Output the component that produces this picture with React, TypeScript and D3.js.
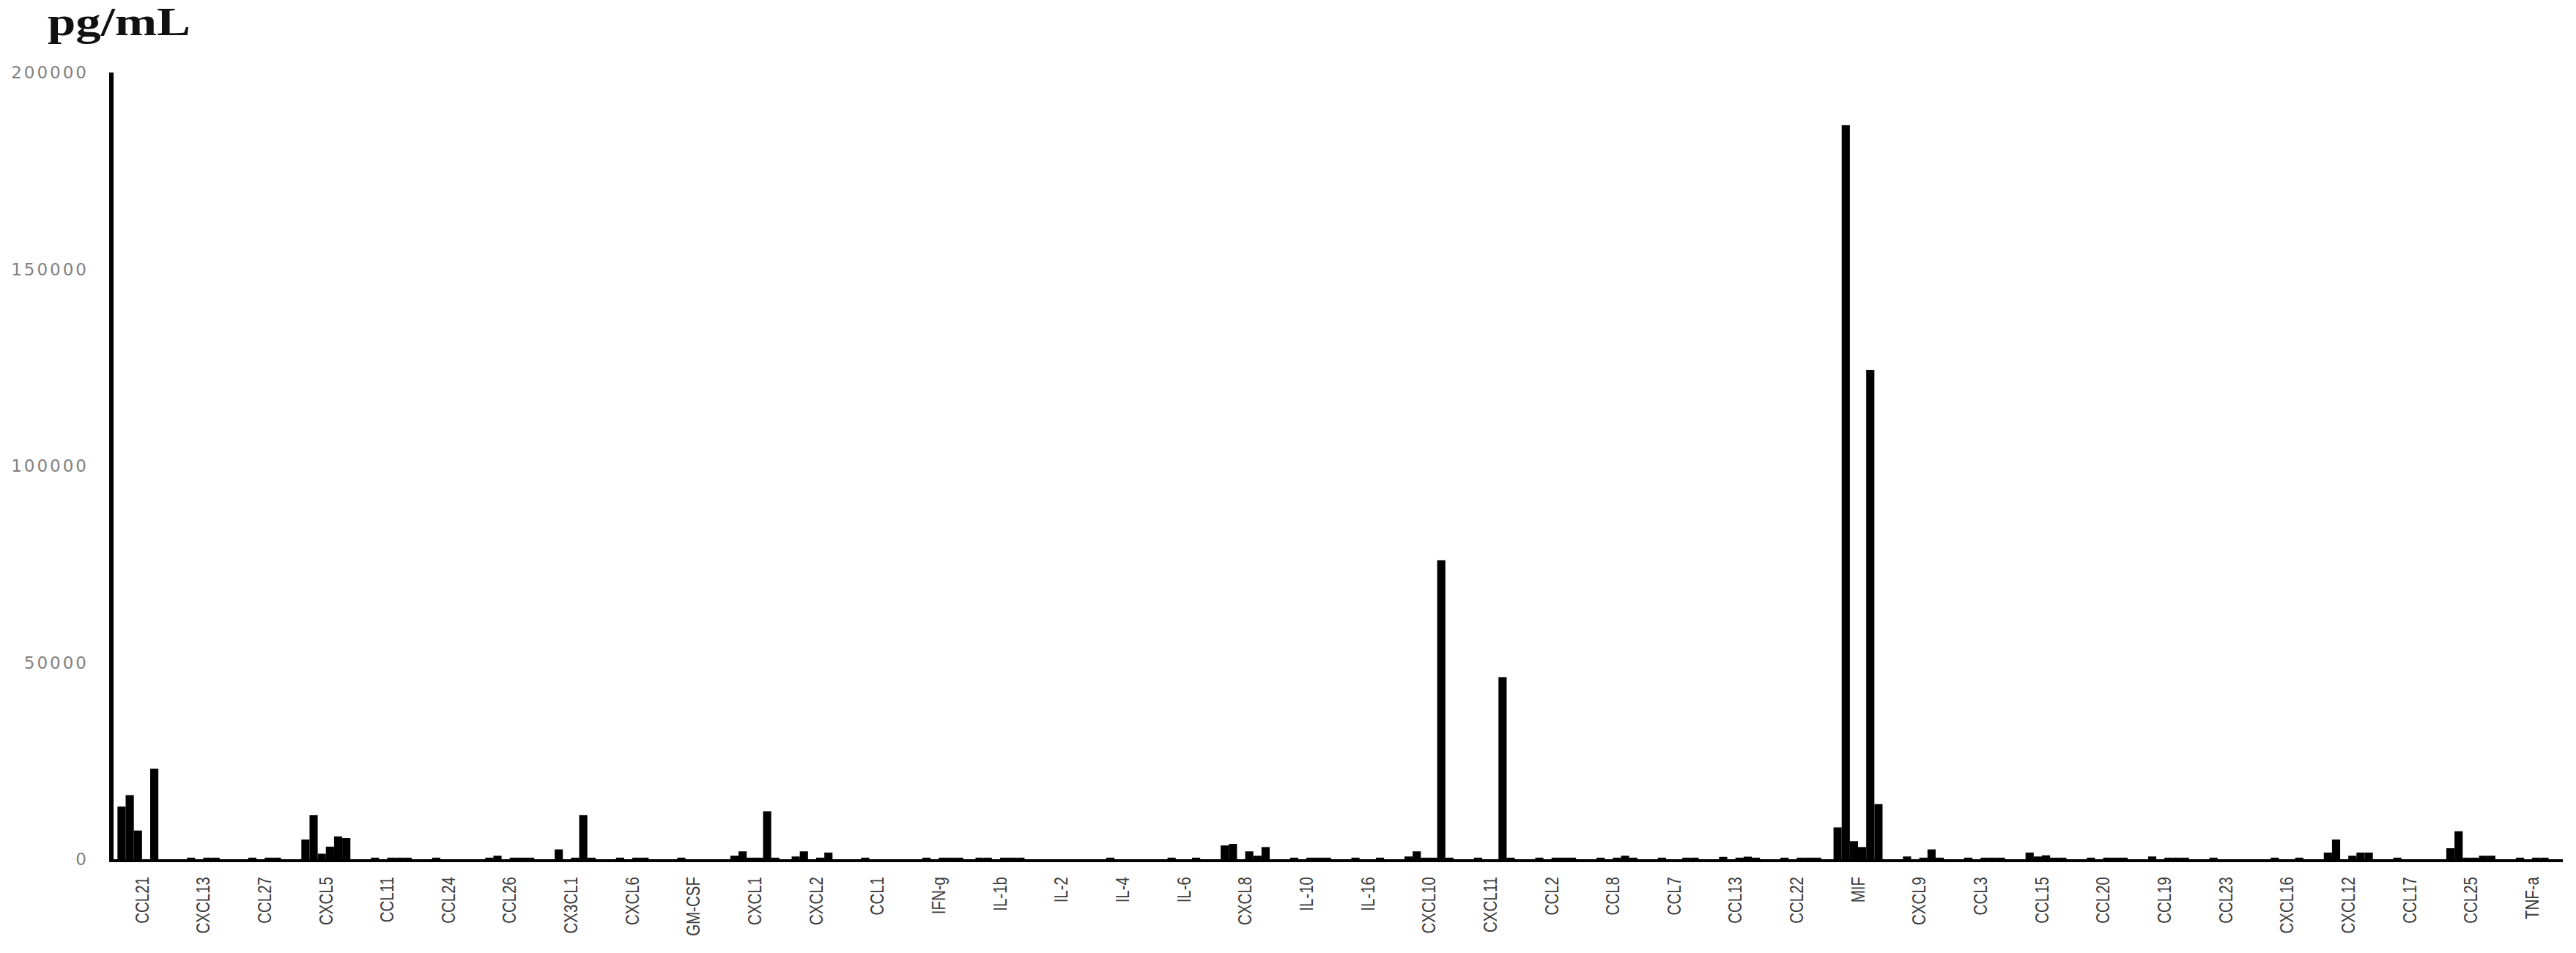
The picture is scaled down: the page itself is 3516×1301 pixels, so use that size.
import React from "react";
import * as d3 from "d3";

const categories = ["CCL21","CXCL13","CCL27","CXCL5","CCL11","CCL24","CCL26","CX3CL1","CXCL6","GM-CSF","CXCL1","CXCL2","CCL1","IFN-g","IL-1b","IL-2","IL-4","IL-6","CXCL8","IL-10","IL-16","CXCL10","CXCL11","CCL2","CCL8","CCL7","CCL13","CCL22","MIF","CXCL9","CCL3","CCL15","CCL20","CCL19","CCL23","CXCL16","CXCL12","CCL17","CCL25","TNF-a"];

const series1 = [13400,0,0,5000,0,0,400,0,0,0,900,700,0,0,400,0,0,0,3500,0,0,700,0,0,0,0,0,0,8100,0,0,0,0,0,0,0,1700,0,2800,0];
const series2 = [16300,400,400,11200,400,400,900,2500,400,400,2000,2000,400,400,400,0,400,400,3900,400,400,2000,400,400,400,400,600,400,186600,700,400,1700,400,700,400,400,5000,400,7100,400];
const series3 = [7300,0,0,1400,0,0,0,0,0,0,400,0,0,0,0,0,0,0,0,0,0,400,0,0,0,0,0,0,4600,0,0,700,0,0,0,0,0,0,400,0];
const series4 = [0,400,400,3200,400,0,400,400,400,0,400,400,0,400,400,0,0,0,2000,400,0,400,0,400,400,0,400,400,3100,400,400,1000,400,400,0,0,900,0,400,400];
const series5 = [23000,400,400,5800,400,0,400,11200,400,0,12200,1700,0,400,400,0,0,400,900,400,400,76000,46300,400,900,400,650,400,124400,2500,400,400,400,400,0,400,1700,0,900,400];
const series6 = [0,0,0,5400,400,0,400,400,0,0,400,0,0,400,400,0,0,0,3100,400,0,400,400,400,400,400,400,400,14000,400,400,400,400,400,0,0,1700,0,900,0];

const seriesNames = ["s1","s2","s3","s4","s5","s6"];
const seriesValues = [series1, series2, series3, series4, series5, series6];
const yTicks = [0, 50000, 100000, 150000, 200000];

const W = 3516;
const H = 1301;

export default function App() {
  const x = d3.scaleBand<string>().domain(categories).range([152, 3498]).paddingInner(0).paddingOuter(0);
  const xs = d3.scaleBand<string>().domain(seriesNames).range([0, x.bandwidth()]).paddingInner(0).paddingOuter(0.75);
  const y = d3.scaleLinear().domain([0, 200000]).range([1173, 99]);

  return (
    <svg width={W} height={H} style={{ position: "absolute", left: 0, top: 0, display: "block", background: "#fff" }}>
      <text x={65} y={48} fontFamily="Liberation Serif, DejaVu Serif, serif" fontWeight="bold" fontSize={54} fill="#111" textLength={195} lengthAdjust="spacingAndGlyphs">pg/mL</text>
      {yTicks.map((t) => (
        <text key={t} x={121} y={y(t)} textAnchor="end" dominantBaseline="central" fontFamily="DejaVu Sans, sans-serif" fontSize={23} letterSpacing={3} fill="#808080">{t}</text>
      ))}
      {categories.map((c, i) => (
        <g key={c} transform={`translate(${x(c)!},0)`}>
          {seriesValues.map((vals, j) => {
            const v = vals[i];
            if (!v) return null;
            return (
              <rect key={j} x={xs(seriesNames[j])!} y={y(v)} width={xs.bandwidth()} height={y(0) - y(v)} fill="#000" />
            );
          })}
        </g>
      ))}
      <line x1={149} x2={3498} y1={1175} y2={1175} stroke="#000" strokeWidth={4} />
      <line x1={152} x2={152} y1={99} y2={1177} stroke="#000" strokeWidth={6} />
      {categories.map((c) => {
        const cx = x(c)! + x.bandwidth() / 2;
        return (
          <text key={c} transform={`translate(${cx},1197) rotate(-90) scale(0.82,1)`} textAnchor="end" dominantBaseline="central" fontFamily="Liberation Sans, Arial, sans-serif" fontSize={25} fill="#3a3a3a">{c}</text>
        );
      })}
    </svg>
  );
}
